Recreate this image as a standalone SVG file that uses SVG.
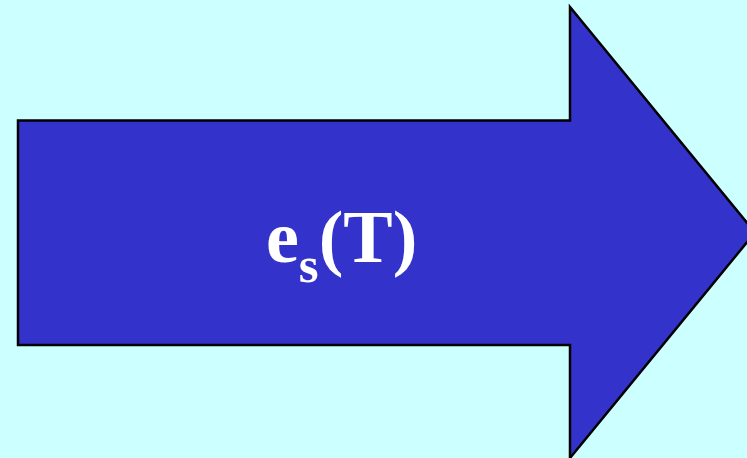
<svg xmlns="http://www.w3.org/2000/svg" width="747" height="458" viewBox="0 0 747 458">
<style>
.bg{fill:#CCFFFF}
.arrow{fill:#3333CC;stroke:#000;stroke-width:2.5;stroke-linejoin:miter}
.lbl{font-family:"Liberation Serif","Times New Roman",serif;font-weight:bold;fill:#fff}
</style>
<rect class="bg" x="0" y="0" width="747" height="458"/>
<g id="arrow">
<polygon class="arrow" points="18,120.5 570,120.5 570,7 755,232.5 570,458 570,345 18,345"/>
<text class="lbl" x="266" y="262" font-size="74">e<tspan font-size="51" dy="20">s</tspan><tspan dy="-20">(T)</tspan></text>
</g>
</svg>
